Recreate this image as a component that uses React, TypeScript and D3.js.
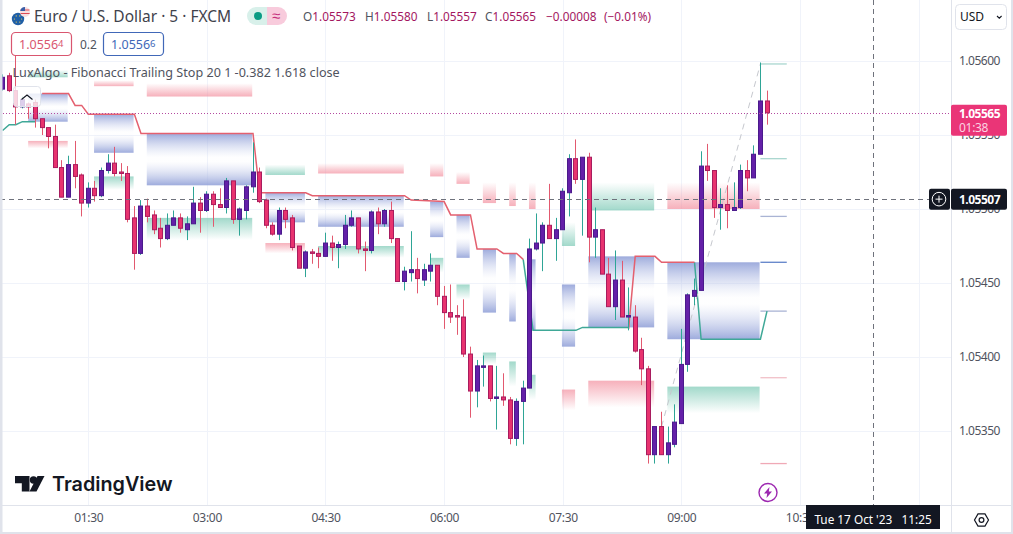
import * as d3 from 'd3';
import { useEffect, useRef } from 'react';

const WIDTH = 1013;
const HEIGHT = 534;

// 5 minute bars, first bar is 00:25
const opens = [
  1.05581, 1.0559, 1.0558, 1.05569, 1.05571, 1.05572, 1.05561, 1.05555, 1.05549, 1.05528,
  1.05508, 1.0553, 1.05523, 1.05504, 1.05514, 1.05509, 1.05526, 1.05531, 1.05525, 1.05524,
  1.05494, 1.0547, 1.05502, 1.05496, 1.05487, 1.0548, 1.05489, 1.05494, 1.05486, 1.0549,
  1.05504, 1.05499, 1.0551, 1.05503, 1.05501, 1.05519, 1.05493, 1.05499, 1.05515, 1.05525,
  1.05506, 1.05489, 1.05483, 1.05499, 1.05494, 1.05475, 1.0546, 1.05471, 1.0547, 1.05468,
  1.05477, 1.05474, 1.05476, 1.05489, 1.05494, 1.05473, 1.05472, 1.05498, 1.0549, 1.05499,
  1.0548, 1.05451, 1.05457, 1.05459, 1.05452, 1.05458, 1.05462, 1.05441, 1.0543, 1.05428,
  1.05427, 1.05402, 1.05377, 1.05393, 1.05394, 1.05372, 1.05373, 1.05371, 1.05345, 1.0537,
  1.05379, 1.05473, 1.05477, 1.05489, 1.0548, 1.05486, 1.05511, 1.05534, 1.0552, 1.05535,
  1.05481, 1.05486, 1.05456, 1.05434, 1.05452, 1.05427, 1.05427, 1.05405, 1.05392, 1.05334,
  1.05353, 1.05334, 1.05341, 1.05355, 1.05395, 1.05441, 1.05445, 1.05529, 1.05526, 1.05501,
  1.05503, 1.05499, 1.05501, 1.05526, 1.05521, 1.05537, 1.05573,
];
const highs = [
  1.05591, 1.05592, 1.05604, 1.05576, 1.05572, 1.05574, 1.05561, 1.05555, 1.05557, 1.05533,
  1.05536, 1.05546, 1.05524, 1.05518, 1.05519, 1.05528, 1.05537, 1.05542, 1.05531, 1.05529,
  1.05502, 1.05506, 1.05507, 1.05499, 1.05494, 1.05497, 1.05499, 1.05497, 1.05495, 1.05515,
  1.05508, 1.05512, 1.05512, 1.05514, 1.05521, 1.05519, 1.05501, 1.05516, 1.05545, 1.05528,
  1.05507, 1.05491, 1.05501, 1.05501, 1.05496, 1.05475, 1.05472, 1.05473, 1.05474, 1.05484,
  1.05482, 1.05478, 1.05496, 1.05499, 1.05494, 1.05478, 1.05499, 1.05501, 1.055, 1.05505,
  1.0548, 1.05461, 1.05485, 1.05467, 1.05463, 1.0547, 1.05462, 1.05448, 1.05449, 1.05435,
  1.05439, 1.05407, 1.05398, 1.05401, 1.05394, 1.05394, 1.05389, 1.05373, 1.05372, 1.05384,
  1.0548, 1.05497, 1.05491, 1.05517, 1.05494, 1.05514, 1.05537, 1.05547, 1.05535, 1.05538,
  1.05501, 1.05486, 1.05467, 1.05472, 1.05465, 1.05447, 1.05435, 1.05413, 1.05394, 1.05353,
  1.05363, 1.05353, 1.05368, 1.05419, 1.05443, 1.05453, 1.05539, 1.05544, 1.05526, 1.05514,
  1.05516, 1.05518, 1.0553, 1.05533, 1.05543, 1.05599, 1.0558,
];
const lows = [
  1.0558, 1.05579, 1.05557, 1.05568, 1.05561, 1.05555, 1.0555, 1.05541, 1.05528, 1.05508,
  1.05508, 1.05514, 1.05495, 1.05501, 1.05505, 1.05508, 1.05524, 1.05522, 1.05519, 1.05491,
  1.05459, 1.05469, 1.05491, 1.05483, 1.05474, 1.05479, 1.05489, 1.05484, 1.05479, 1.0549,
  1.05484, 1.05498, 1.05488, 1.05501, 1.05497, 1.0549, 1.05482, 1.05493, 1.05511, 1.05504,
  1.05487, 1.05482, 1.05479, 1.05487, 1.05472, 1.0546, 1.05454, 1.05463, 1.0546, 1.05468,
  1.05465, 1.0546, 1.05473, 1.05488, 1.0547, 1.05458, 1.0547, 1.05483, 1.05488, 1.05477,
  1.05451, 1.05445, 1.05451, 1.05443, 1.05448, 1.05451, 1.05435, 1.05419, 1.05423, 1.05415,
  1.054, 1.05359, 1.05366, 1.0538, 1.0537, 1.05351, 1.05367, 1.05341, 1.0534, 1.05341,
  1.05379, 1.05472, 1.05458, 1.0548, 1.05465, 1.05486, 1.05495, 1.05517, 1.05482, 1.05464,
  1.05467, 1.05456, 1.05434, 1.05425, 1.05427, 1.05418, 1.05403, 1.05381, 1.05328, 1.05328,
  1.05334, 1.05328, 1.05339, 1.05355, 1.0539, 1.05435, 1.05445, 1.05519, 1.05494, 1.05486,
  1.05487, 1.05499, 1.055, 1.05512, 1.05521, 1.05537, 1.05557,
];
const closes = [
  1.05589, 1.0558, 1.05569, 1.05574, 1.05569, 1.05561, 1.05555, 1.05549, 1.05528, 1.05508,
  1.0553, 1.05522, 1.05504, 1.05514, 1.05509, 1.05526, 1.05531, 1.05524, 1.05524, 1.05493,
  1.0547, 1.05502, 1.05495, 1.05486, 1.0548, 1.05489, 1.05494, 1.05487, 1.0549, 1.05504,
  1.05499, 1.0551, 1.05503, 1.05501, 1.05519, 1.05493, 1.055, 1.05515, 1.05525, 1.05505,
  1.05489, 1.05483, 1.05499, 1.05493, 1.05474, 1.0546, 1.05471, 1.0547, 1.05468, 1.05477,
  1.05474, 1.05476, 1.05489, 1.05494, 1.05473, 1.05472, 1.05498, 1.0549, 1.05499, 1.0548,
  1.05451, 1.05458, 1.05459, 1.05453, 1.05459, 1.05462, 1.05441, 1.0543, 1.05427, 1.05427,
  1.05402, 1.05377, 1.05394, 1.05394, 1.05372, 1.05373, 1.05371, 1.05345, 1.0537, 1.05379,
  1.05473, 1.05477, 1.05489, 1.0548, 1.05486, 1.05512, 1.05534, 1.0552, 1.05535, 1.05481,
  1.05486, 1.05456, 1.05434, 1.05452, 1.05427, 1.05428, 1.05404, 1.05392, 1.05334, 1.05353,
  1.05334, 1.05342, 1.05356, 1.05395, 1.05442, 1.05445, 1.05529, 1.05526, 1.05501, 1.05503,
  1.05499, 1.05501, 1.05526, 1.05521, 1.05537, 1.05573, 1.05565,
];

// trailing stop, [bar, price]
const stopUpA: [number, number][] = [[0, 1.05553], [1, 1.05557], [2, 1.05557], [3, 1.05559], [5, 1.05559]];
const stopDownA: [number, number][] = [
  [6, 1.05578], [10, 1.05578], [11, 1.0557], [12, 1.0557], [13, 1.05564], [20, 1.05564], [21, 1.05551], [38, 1.05551],
  [39, 1.05511], [46, 1.05511], [47, 1.05509], [61, 1.05509], [62, 1.05506], [67, 1.05505], [68, 1.05496], [71, 1.05496],
  [72, 1.05473], [75, 1.05473], [76, 1.0547], [78, 1.0547], [79, 1.05466],
];
const stopUpB: [number, number][] = [[79, 1.05466], [80.5, 1.05418], [87, 1.05418], [88, 1.0542], [95, 1.0542]];
const stopDownB: [number, number][] = [[95, 1.05419], [96, 1.05468], [99, 1.05468], [100, 1.05464], [105, 1.05464]];
const stopUpC: [number, number][] = [[105, 1.05464], [106, 1.05412], [115, 1.05412], [116, 1.05431]];

// fib zones per trend leg
const zoneStart = [4, 14, 22, 40, 48, 65, 69, 73, 77, 80, 85, 89, 101];
const zoneEnd = [10, 20, 38, 46, 61, 67, 71, 75, 78, 81, 87, 99, 115];
const midTop = [1.05578, 1.05564, 1.05551, 1.05511, 1.05509, 1.05505, 1.05496, 1.05473, 1.0547, 1.05466, 1.05449, 1.05468, 1.05464];
const midBottom = [1.05559, 1.05538, 1.05516, 1.05491, 1.05488, 1.05481, 1.05467, 1.0543, 1.05424, 1.05418, 1.05407, 1.0542, 1.05412];
const upperTop = [1.05594, 1.05587, 1.05585, 1.0553, 1.05531, 1.05531, 1.05525, 1.05518, 1.05518, 1.05518, 1.05491, 1.05518, 1.05518];
const upperBottom = [1.05589, 1.05583, 1.05576, 1.05523, 1.05524, 1.05522, 1.05517, 1.05504, 1.05502, 1.055, 1.05475, 1.05499, 1.055];
const lowerTop = [1.05546, 1.05522, 1.05494, 1.05477, 1.05475, 1.05467, 1.05449, 1.05403, 1.05397, 1.05388, 1.05378, 1.05384, 1.0538];
const lowerBottom = [1.05541, 1.05513, 1.05479, 1.0547, 1.05467, 1.05457, 1.05439, 1.05395, 1.0538, 1.05371, 1.05364, 1.05366, 1.05362];
const upperIsTeal = [true, false, false, true, false, false, false, false, false, false, true, true, false];

const levelPrices = [1.05598, 1.05534, 1.05495, 1.05464, 1.05431, 1.05386, 1.05328];
const levelColors = ['#a9d6cf', '#a9d6cf', '#aab4d4', '#5f82c9', '#aab4d4', '#f2c0c8', '#f0a9b6'];
const levelStart = 115;
const levelEnd = 119;

const fibBars = [100, 115];
const fibPrices = [1.05353, 1.05598];

const priceTicks = [1.0535, 1.054, 1.0545, 1.055, 1.0555, 1.056];
const timeTickBars = [13, 31, 49, 67, 85, 103, 121, 139];
const timeTickLabels = ['01:30', '03:00', '04:30', '06:00', '07:30', '09:00', '10:30', '12:00'];

const crossBar = 132;
const crossPrice = 1.05507;

const PINK = '#e8336f';
const PINK_EDGE = '#a81c5e';
const PURPLE = '#6420a8';
const PURPLE_EDGE = '#4a1a8c';
const WICK_UP = '#2ea596';
const WICK_DOWN = '#e2596f';
const FONT = '"Noto Sans", sans-serif';

export default function App() {
  const svgRef = useRef<SVGSVGElement | null>(null);

  useEffect(() => {
    if (!svgRef.current) return;
    const svg = d3.select(svgRef.current);
    svg.selectAll('*').remove();

    const paneRight = 951;
    const paneBottom = 505;

    const x = d3.scaleLinear().domain([0, 116]).range([2.6, 767]);
    const y = d3.scaleLinear().domain([1.0535, 1.056]).range([431, 61]);
    const snap = (v: number) => Math.round(v) + 0.5;

    svg.append('rect').attr('width', WIDTH).attr('height', HEIGHT).attr('fill', '#fff');

    const defs = svg.append('defs');
    const gradient = (id: string, stops: [number, string, number][]) => {
      const g = defs.append('linearGradient').attr('id', id).attr('x1', 0).attr('x2', 0).attr('y1', 0).attr('y2', 1);
      stops.forEach(([offset, color, opacity]) => {
        g.append('stop').attr('offset', offset).attr('stop-color', color).attr('stop-opacity', opacity);
      });
    };
    gradient('blue', [[0, '#8c9cd6', 0.85], [0.46, '#c9d1ee', 0.02], [0.54, '#c9d1ee', 0.02], [1, '#8c9cd6', 0.85]]);
    gradient('redBottom', [[0, '#f28b9b', 0], [1, '#f28b9b', 0.68]]);
    gradient('redTop', [[0, '#f28b9b', 0.68], [1, '#f28b9b', 0]]);
    gradient('tealBottom', [[0, '#6fc4ae', 0], [1, '#6fc4ae', 0.65]]);
    gradient('tealTop', [[0, '#6fc4ae', 0.65], [1, '#6fc4ae', 0]]);

    // grid
    const grid = svg.append('g').attr('stroke', '#f0f3fa').attr('stroke-width', 1);
    grid.selectAll('line.h').data(priceTicks).enter().append('line')
      .attr('x1', 0).attr('x2', paneRight)
      .attr('y1', (d) => snap(y(d))).attr('y2', (d) => snap(y(d)));
    grid.selectAll('line.v').data(timeTickBars).enter().append('line')
      .attr('y1', 0).attr('y2', paneBottom)
      .attr('x1', (d) => snap(x(d))).attr('x2', (d) => snap(x(d)));

    // zones
    const zones = svg.append('g');
    const zoneX = (bar: number) => x(bar) - 0.8;
    const addZones = (tops: number[], bottoms: number[], fill: (i: number) => string) => {
      zones.append('g').selectAll('rect').data(zoneStart).enter().append('rect')
        .attr('x', (d) => zoneX(d))
        .attr('width', (d, i) => zoneX(zoneEnd[i]) - zoneX(d))
        .attr('y', (d, i) => y(tops[i]))
        .attr('height', (d, i) => y(bottoms[i]) - y(tops[i]))
        .attr('fill', (d, i) => fill(i));
    };
    addZones(midTop, midBottom, () => 'url(#blue)');
    addZones(upperTop, upperBottom, (i) => (upperIsTeal[i] ? 'url(#tealBottom)' : 'url(#redBottom)'));
    addZones(lowerTop, lowerBottom, (i) => (upperIsTeal[i] ? 'url(#redTop)' : 'url(#tealTop)'));

    // levels at the right end of the last leg
    svg.append('g').selectAll('line').data(levelPrices).enter().append('line')
      .attr('x1', x(levelStart)).attr('x2', x(levelEnd))
      .attr('y1', (d) => y(d)).attr('y2', (d) => y(d))
      .attr('stroke', (d, i) => levelColors[i]).attr('stroke-width', 1.3);

    // trailing stop
    const stopLine = d3.line<[number, number]>().x((d) => x(d[0])).y((d) => y(d[1]));
    [stopUpA, stopUpB, stopUpC].forEach((seg) => {
      svg.append('path').attr('d', stopLine(seg)).attr('fill', 'none').attr('stroke', '#3fa897').attr('stroke-width', 1.5);
    });
    [stopDownA, stopDownB].forEach((seg) => {
      svg.append('path').attr('d', stopLine(seg)).attr('fill', 'none').attr('stroke', '#e4606f').attr('stroke-width', 1.5);
    });

    svg.append('line')
      .attr('x1', x(fibBars[0])).attr('x2', x(fibBars[1]))
      .attr('y1', y(fibPrices[0])).attr('y2', y(fibPrices[1]))
      .attr('stroke', '#c6c8ce').attr('stroke-width', 1).attr('stroke-dasharray', '6 5');

    // candles
    const candles = svg.append('g').selectAll('g').data(opens).enter().append('g');
    const barX = (i: number) => Math.round(x(i) - 0.5);
    candles.append('rect')
      .attr('x', (d, i) => barX(i))
      .attr('width', 1)
      .attr('y', (d, i) => y(highs[i]))
      .attr('height', (d, i) => y(lows[i]) - y(highs[i]))
      .attr('fill', (d, i) => (closes[i] >= d ? WICK_UP : WICK_DOWN));
    candles.append('rect')
      .attr('x', (d, i) => barX(i) - 1.5)
      .attr('width', 4)
      .attr('y', (d, i) => y(Math.max(d, closes[i])))
      .attr('height', (d, i) => Math.max(1, Math.abs(y(d) - y(closes[i]))))
      .attr('fill', (d, i) => (closes[i] >= d ? PURPLE : PINK))
      .attr('stroke', (d, i) => (closes[i] >= d ? PURPLE_EDGE : PINK_EDGE))
      .attr('stroke-width', 1);

    const last = opens.length - 1;

    // last price line
    svg.append('line')
      .attr('x1', 0).attr('x2', paneRight)
      .attr('y1', snap(y(closes[last]))).attr('y2', snap(y(closes[last])))
      .attr('stroke', '#b44aa0').attr('stroke-width', 1).attr('stroke-dasharray', '1 2');

    // crosshair
    const crossX = snap(x(crossBar)) + 1;
    const cross = svg.append('g').attr('stroke', '#6f727c').attr('stroke-width', 1).attr('stroke-dasharray', '5 4');
    cross.append('line').attr('x1', crossX).attr('x2', crossX).attr('y1', 0).attr('y2', paneBottom);
    cross.append('line').attr('x1', 0).attr('x2', 929).attr('y1', snap(y(crossPrice))).attr('y2', snap(y(crossPrice)));

    // watermark
    const logo = svg.append('g').attr('fill', '#131722');
    logo.append('path').attr('d', 'M15 476H29.5V491.5H21.8V483.3H15Z');
    logo.append('circle').attr('cx', 33.5).attr('cy', 480).attr('r', 3.7);
    logo.append('path').attr('d', 'M37.5 476H44.5L36.5 491.5H29.5Z');
    svg.append('text').text('TradingView')
      .attr('x', 52).attr('y', 491).attr('font-family', 'Inter, sans-serif').attr('font-weight', 600)
      .attr('font-size', 19.8).attr('fill', '#131722');

    // lightning badge
    const bolt = svg.append('g').attr('transform', 'translate(768,492.5)');
    bolt.append('circle').attr('r', 9).attr('fill', '#fff').attr('stroke', '#9c27b0').attr('stroke-width', 1.4);
    bolt.append('path').attr('d', 'M1.5 -5.5L-4 1H-0.8L-1.5 5.5L4 -1H0.8Z').attr('fill', '#9c27b0');

    // legend
    const legend = svg.append('g').attr('font-family', FONT);
    legend.append('text').text('Euro / U.S. Dollar · 5 · FXCM')
      .attr('x', 34).attr('y', 22).attr('font-size', 15.5).attr('fill', '#3f424c');

    const flag = legend.append('g');
    flag.append('circle').attr('cx', 18).attr('cy', 19).attr('r', 6.2).attr('fill', '#1f5fa6');
    flag.selectAll('circle.dot').data([0, 1, 2, 3, 4, 5]).enter().append('circle')
      .attr('cx', (d) => 18 + 3.6 * Math.cos((d * Math.PI) / 3))
      .attr('cy', (d) => 19 + 3.6 * Math.sin((d * Math.PI) / 3))
      .attr('r', 0.6).attr('fill', '#ffd54f');
    flag.append('circle').attr('cx', 25).attr('cy', 12).attr('r', 5).attr('fill', '#f6dfe0');
    flag.append('path').attr('d', 'M20.5 10H29.5M20.6 13.5H29.6').attr('stroke', '#dd4a55').attr('stroke-width', 1.2);
    flag.append('path').attr('d', 'M25 7A5 5 0 0 0 20.2 11H25Z').attr('fill', '#3a5fa8');

    legend.append('path').attr('d', 'M267 7H256A9 9 0 0 0 256 25H267Z').attr('fill', '#d8f0ea');
    legend.append('path').attr('d', 'M267 7H278A9 9 0 0 1 278 25H267Z').attr('fill', '#f8cbdc');
    legend.append('circle').attr('cx', 258).attr('cy', 16).attr('r', 4).attr('fill', '#0b9b84');
    legend.append('text').text('≈').attr('x', 276).attr('y', 20.5).attr('text-anchor', 'middle')
      .attr('font-size', 15).attr('fill', '#c5307c');

    const fmt = d3.format('.5f');
    const change = closes[last] - opens[last];
    const ohlc = [
      { label: 'O', value: fmt(opens[last]), at: 303 },
      { label: 'H', value: fmt(highs[last]), at: 365 },
      { label: 'L', value: fmt(lows[last]), at: 427 },
      { label: 'C', value: fmt(closes[last]), at: 485 },
    ];
    const ohlcText = legend.append('text').attr('y', 21).attr('font-size', 11.8);
    ohlc.forEach((o) => {
      ohlcText.append('tspan').attr('x', o.at).attr('fill', '#50535e').text(o.label);
      ohlcText.append('tspan').attr('fill', '#a3175f').text(o.value);
    });
    ohlcText.append('tspan').attr('x', 546).attr('fill', '#a3175f').text(`−${fmt(Math.abs(change))}`);
    ohlcText.append('tspan').attr('x', 604).attr('fill', '#a3175f').text('(−0.01%)');

    const priceBox = (bx: number, color: string, main: string, sup: string) => {
      legend.append('rect').attr('x', bx + 0.5).attr('y', 32.5).attr('width', 60).attr('height', 23).attr('rx', 4)
        .attr('fill', '#fff').attr('stroke', color).attr('stroke-width', 1.2);
      const t = legend.append('text').attr('x', bx + 8).attr('y', 49).attr('fill', color).attr('font-size', 12.5);
      t.append('tspan').text(main);
      t.append('tspan').text(sup).attr('font-size', 9.5).attr('dy', -2);
    };
    priceBox(11, '#d9566f', '1.0556', '4');
    legend.append('text').text('0.2').attr('x', 80).attr('y', 49).attr('font-size', 12).attr('fill', '#50535e');
    priceBox(103, '#4168b8', '1.0556', '6');

    legend.append('text').text('LuxAlgo - Fibonacci Trailing Stop 20 1 -0.382 1.618 close')
      .attr('x', 12.5).attr('y', 77).attr('font-size', 12.6).attr('fill', '#50535e');

    legend.append('rect').attr('x', 13.5).attr('y', 86.5).attr('width', 27).attr('height', 20).attr('rx', 3)
      .attr('fill', 'rgba(255,255,255,0.78)').attr('stroke', '#e0e3eb');
    legend.append('path').attr('d', 'M21.5 99.5L27 95L32.5 99.5').attr('fill', 'none').attr('stroke', '#131722').attr('stroke-width', 1.1);

    // price axis
    svg.append('rect').attr('x', paneRight).attr('y', 0).attr('width', WIDTH - paneRight).attr('height', HEIGHT).attr('fill', '#fff');
    svg.append('rect').attr('x', 0).attr('y', paneBottom).attr('width', WIDTH).attr('height', HEIGHT - paneBottom).attr('fill', '#fff');

    const yAxis = d3.axisRight(y).tickValues(priceTicks).tickSize(0).tickPadding(8).tickFormat((d) => fmt(d as number));
    const yAxisG = svg.append('g').attr('transform', `translate(${paneRight},0)`).call(yAxis);
    yAxisG.select('.domain').remove();
    yAxisG.selectAll('text').attr('font-family', FONT).attr('font-size', 12).attr('letter-spacing', -0.5).attr('fill', '#50535e');

    const xAxis = d3.axisBottom(x).tickValues(timeTickBars).tickSize(0).tickPadding(8).tickFormat((d, i) => timeTickLabels[i]);
    const xAxisG = svg.append('g').attr('transform', `translate(0,${paneBottom})`).call(xAxis);
    xAxisG.select('.domain').remove();
    xAxisG.selectAll('text').attr('font-family', FONT).attr('font-size', 12).attr('letter-spacing', -0.3).attr('fill', '#50535e');

    // frame
    const frame = svg.append('g').attr('fill', '#e0e3eb');
    frame.append('rect').attr('x', 0).attr('y', 0).attr('width', 2.5).attr('height', HEIGHT);
    frame.append('rect').attr('x', WIDTH - 2).attr('y', 0).attr('width', 2).attr('height', HEIGHT);
    frame.append('rect').attr('x', 0).attr('y', HEIGHT - 2).attr('width', WIDTH).attr('height', 2);
    frame.append('rect').attr('x', 2).attr('y', paneBottom).attr('width', WIDTH).attr('height', 1);
    frame.append('rect').attr('x', paneRight).attr('y', 0).attr('width', 1).attr('height', HEIGHT);

    // currency button
    const usd = svg.append('g').attr('font-family', FONT);
    usd.append('rect').attr('x', 955.5).attr('y', 4.5).attr('width', 51).attr('height', 25).attr('rx', 4)
      .attr('fill', '#fff').attr('stroke', '#e0e3eb');
    usd.append('text').text('USD').attr('x', 960).attr('y', 21).attr('font-size', 12).attr('fill', '#131722');
    usd.append('path').attr('d', 'M997 16L999.3 18.2L1001.6 16').attr('fill', 'none').attr('stroke', '#131722').attr('stroke-width', 1.1);

    // last price label
    const lastY = y(closes[last]);
    svg.append('rect').attr('x', paneRight).attr('y', lastY - 8).attr('width', 56).attr('height', 31).attr('rx', 2).attr('fill', '#ea3577');
    svg.append('text').text(fmt(closes[last])).attr('x', 959).attr('y', lastY + 5.2)
      .attr('font-family', FONT).attr('font-weight', 700).attr('font-size', 12).attr('letter-spacing', -0.5).attr('fill', '#fff');
    svg.append('text').text('01:38').attr('x', 959).attr('y', lastY + 19)
      .attr('font-family', FONT).attr('font-size', 12).attr('letter-spacing', -0.3).attr('fill', '#fbd3e2');

    // crosshair labels
    const crossY = y(crossPrice);
    svg.append('rect').attr('x', 929).attr('y', crossY - 10).attr('width', 21).attr('height', 21).attr('rx', 2).attr('fill', '#131722');
    svg.append('circle').attr('cx', 939).attr('cy', crossY + 0.5).attr('r', 6.8).attr('fill', 'none').attr('stroke', '#fff').attr('stroke-width', 1);
    svg.append('path').attr('d', `M935.5 ${crossY + 0.5}H942.5M939 ${crossY - 3}V${crossY + 4}`).attr('stroke', '#fff').attr('stroke-width', 1);
    svg.append('rect').attr('x', paneRight).attr('y', crossY - 10).attr('width', 56).attr('height', 21).attr('rx', 2).attr('fill', '#131722');
    svg.append('text').text(fmt(crossPrice)).attr('x', 959).attr('y', crossY + 5.2)
      .attr('font-family', FONT).attr('font-weight', 700).attr('font-size', 12).attr('letter-spacing', -0.5).attr('fill', '#fff');

    svg.append('rect').attr('x', 806).attr('y', paneBottom).attr('width', 134).attr('height', 24).attr('fill', '#131722');
    svg.append('text').text("Tue 17 Oct '23   11:25").attr('x', 873).attr('y', 524).attr('text-anchor', 'middle')
      .attr('xml:space', 'preserve').attr('font-family', FONT).attr('font-size', 11.8).attr('fill', '#fff');

    // settings gear
    const hex = d3.range(6).map((k) => {
      const a = (k * Math.PI) / 3;
      return [981.5 + 7 * Math.cos(a), 520 + 7 * Math.sin(a)] as [number, number];
    });
    svg.append('path').attr('d', `${d3.line()(hex)}Z`).attr('fill', 'none').attr('stroke', '#131722').attr('stroke-width', 1.2);
    svg.append('circle').attr('cx', 981.5).attr('cy', 520).attr('r', 2.4).attr('fill', 'none').attr('stroke', '#131722').attr('stroke-width', 1.2);
  }, []);

  return (
    <svg
      ref={svgRef}
      width={WIDTH}
      height={HEIGHT}
      style={{ position: 'absolute', left: 0, top: 0, display: 'block' }}
    ></svg>
  );
}
